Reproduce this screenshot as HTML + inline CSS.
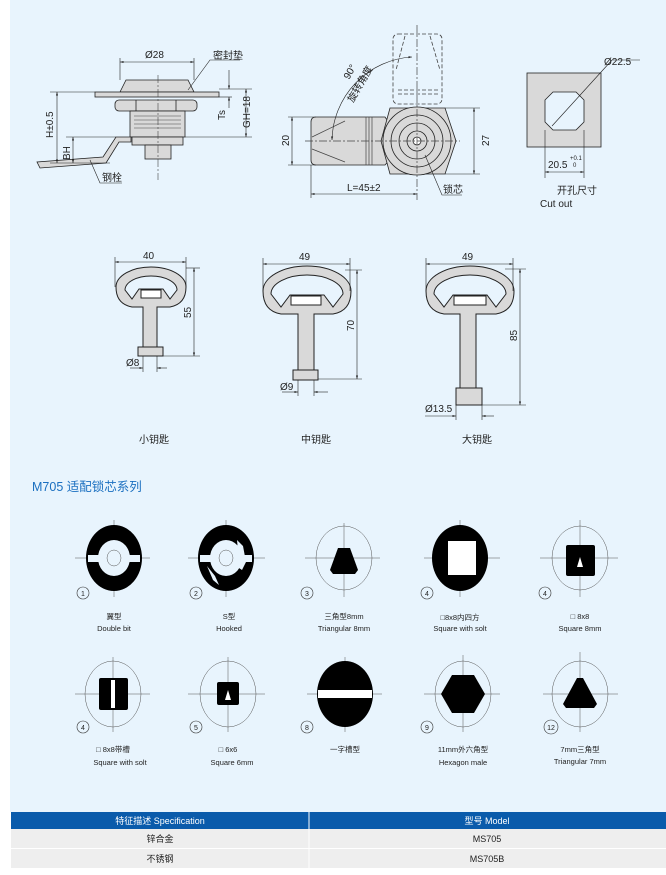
<!DOCTYPE html>
<html><head><meta charset="utf-8"><style>
html,body{margin:0;padding:0;background:#fff;}
svg{display:block;}
text{font-family:"Liberation Sans","Noto Sans CJK SC",sans-serif;fill:#222;}
</style></head><body>
<svg width="666" height="875" viewBox="0 0 666 875" xmlns="http://www.w3.org/2000/svg">
<defs>
<marker id="a" viewBox="0 0 10 10" refX="10" refY="5" markerWidth="6" markerHeight="6" orient="auto-start-reverse"><path d="M0,2L10,5L0,8z" fill="#222"/></marker>
</defs>
<rect x="10" y="0" width="656" height="812" fill="#e8f4fd"/>

<!-- ===== Left assembly drawing ===== -->
<g stroke="#222" stroke-width="0.8" fill="#d9d9d9">
<path d="M120,92 L126,80 L188,80 L194,92z"/>
<rect x="95" y="92" width="124" height="5"/>
<rect x="115" y="100" width="82" height="11" rx="4"/>
<line x1="136" y1="100" x2="136" y2="111"/><line x1="176" y1="100" x2="176" y2="111"/>
<rect x="130" y="111" width="55" height="26"/>
<rect x="132" y="137" width="51" height="8"/>
<rect x="145" y="145" width="26" height="14"/>
<path d="M116,137 L131,137 L131,142 L119,142 L106,163 L40,168 L37,162 L103,157z"/>
</g>
<g stroke="#444" stroke-width="0.6">
<line x1="134" y1="116" x2="181" y2="116"/><line x1="134" y1="120" x2="181" y2="120"/><line x1="134" y1="124" x2="181" y2="124"/><line x1="134" y1="128" x2="181" y2="128"/>
<line x1="158" y1="75" x2="158" y2="180" stroke-dasharray="8,2,2,2"/>
</g>
<g stroke="#222" stroke-width="0.6" fill="none">
<line x1="120" y1="58" x2="120" y2="80"/><line x1="194" y1="58" x2="194" y2="80"/>
<line x1="120" y1="62" x2="194" y2="62" marker-start="url(#a)" marker-end="url(#a)"/>
<polyline points="188,90 210,60 240,60"/>
<line x1="50" y1="92" x2="95" y2="92"/><line x1="50" y1="163" x2="110" y2="163"/>
<line x1="57" y1="92" x2="57" y2="163" marker-start="url(#a)" marker-end="url(#a)"/>
<line x1="66" y1="137" x2="116" y2="137"/>
<line x1="73" y1="137" x2="73" y2="163" marker-start="url(#a)" marker-end="url(#a)"/>
<line x1="185" y1="137" x2="252" y2="137"/><line x1="219" y1="89" x2="252" y2="89"/><line x1="219" y1="97" x2="232" y2="97"/>
<line x1="229" y1="70" x2="229" y2="89" marker-end="url(#a)"/>
<line x1="229" y1="108" x2="229" y2="97" marker-end="url(#a)"/>
<line x1="246" y1="89" x2="246" y2="137" marker-start="url(#a)" marker-end="url(#a)"/>
<polyline points="90,160 100,183 122,183"/>
</g>
<text x="145" y="58" font-size="10">Ø28</text>
<text x="213" y="59" font-size="10">密封垫</text>
<text x="0" y="0" font-size="10" transform="translate(53,138) rotate(-90)">H±0.5</text>
<text x="0" y="0" font-size="10" transform="translate(70,160) rotate(-90)">BH</text>
<text x="0" y="0" font-size="10" transform="translate(225,120) rotate(-90)">Ts</text>
<text x="0" y="0" font-size="10" transform="translate(250,128) rotate(-90)">GH=18</text>
<text x="102" y="181" font-size="10">钢栓</text>

<!-- ===== Middle drawing ===== -->
<g stroke="#444" stroke-width="0.8" fill="none" stroke-dasharray="4,2">
<rect x="393" y="34" width="49" height="70" rx="5"/>
<line x1="398" y1="90" x2="438" y2="90"/><line x1="398" y1="94" x2="438" y2="94"/>
<line x1="405" y1="36" x2="396" y2="70"/><line x1="430" y1="36" x2="440" y2="70"/>
</g>
<g stroke="#222" stroke-width="0.8" fill="#d9d9d9">
<path d="M316,117 L385,117 L392,127 L392,157 L385,165 L316,165 Q311,165 311,160 L311,122 Q311,117 316,117z"/>
<path d="M390,108 L445,108 L456,141 L445,174 L390,174 L381,141z"/>
<circle cx="417" cy="141" r="34"/>
<circle cx="417" cy="141" r="26" fill="none"/>
<circle cx="417" cy="141" r="18" fill="none"/>
<circle cx="417" cy="141" r="10" fill="none"/>
<circle cx="417" cy="141" r="4" fill="#fff"/>
</g>
<g stroke="#444" stroke-width="0.7" fill="none">
<line x1="366" y1="117" x2="366" y2="165"/><line x1="369" y1="117" x2="369" y2="165"/><line x1="372" y1="117" x2="372" y2="165"/>
<line x1="312" y1="137" x2="345" y2="121"/><line x1="312" y1="149" x2="345" y2="162"/>
<line x1="305" y1="141" x2="460" y2="141" stroke-dasharray="8,2,2,2"/>
<line x1="417" y1="25" x2="417" y2="200" stroke-dasharray="8,2,2,2"/>
</g>
<g stroke="#222" stroke-width="0.6" fill="none">
<path d="M412,57 A85,85 0 0 0 332,140" marker-start="url(#a)" marker-end="url(#a)"/>
<line x1="288" y1="117" x2="316" y2="117"/><line x1="288" y1="165" x2="316" y2="165"/>
<line x1="292" y1="117" x2="292" y2="165" marker-start="url(#a)" marker-end="url(#a)"/>
<line x1="445" y1="108" x2="480" y2="108"/><line x1="445" y1="174" x2="480" y2="174"/>
<line x1="474" y1="108" x2="474" y2="174" marker-start="url(#a)" marker-end="url(#a)"/>
<line x1="311" y1="165" x2="311" y2="198"/>
<line x1="311" y1="194" x2="417" y2="194" marker-start="url(#a)" marker-end="url(#a)"/>
<polyline points="425,155 442,195 462,195"/>
</g>
<text x="0" y="0" font-size="10" transform="translate(289,146) rotate(-90)">20</text>
<text x="0" y="0" font-size="10" transform="translate(489,146) rotate(-90)">27</text>
<text x="0" y="0" font-size="10" transform="translate(349,80) rotate(-60)">90°</text>
<text x="0" y="0" font-size="10" transform="translate(353,103) rotate(-60)">旋转角度</text>
<text x="347" y="191" font-size="10">L=45±2</text>
<text x="443" y="193" font-size="10">锁芯</text>

<!-- ===== Cutout ===== -->
<g stroke="#222" stroke-width="0.8">
<rect x="527" y="73" width="74" height="74" fill="#d9d9d9"/>
<path d="M553,92 L576,92 L584,100 L584,122 L576,130 L553,130 L545,122 L545,100z" fill="#e8f4fd"/>
<line x1="552" y1="126" x2="612" y2="60" stroke-width="0.6"/>
<line x1="612" y1="60" x2="640" y2="60" stroke-width="0.6"/>
<line x1="545" y1="130" x2="545" y2="178" stroke-width="0.6"/>
<line x1="584" y1="130" x2="584" y2="178" stroke-width="0.6"/>
<line x1="545" y1="172" x2="584" y2="172" stroke-width="0.6" marker-start="url(#a)" marker-end="url(#a)"/>
</g>
<text x="604" y="65" font-size="10">Ø22.5</text>
<text x="548" y="168" font-size="10">20.5</text>
<text x="570" y="160" font-size="6">+0.1</text>
<text x="573" y="167" font-size="6">0</text>
<text x="557" y="194" font-size="10">开孔尺寸</text>
<text x="540" y="207" font-size="10">Cut out</text>

<!-- ===== Keys ===== -->
<g stroke="#222" stroke-width="1" fill="#d9d9d9">
<path d="M116,287 A35,20 0 1 1 186,287 Q186,304 170,307 L157,307 L157,348 L143,348 L143,307 L132,307 Q116,304 116,287z"/>
<path d="M125,290 A26,14 0 1 1 177,290 L170,299 L163,289 L139,289 L132,299z" fill="#e8f4fd"/>
<rect x="138" y="347" width="25" height="9"/>
<rect x="141" y="290" width="20" height="8" fill="#fff"/>
<path d="M263,291 A44,25 0 1 1 351,291 Q351,311 333,314 L314,314 L314,371 L298,371 L298,314 L281,314 Q263,311 263,291z"/>
<path d="M271,294 A36,19 0 1 1 343,294 L333,307 L324,295 L290,295 L281,307z" fill="#e8f4fd"/>
<rect x="293" y="370" width="25" height="10"/>
<rect x="291" y="296" width="30" height="9" fill="#fff"/>
<path d="M426,291 A44,25 0 1 1 514,291 Q514,311 496,314 L476,314 L476,388 L460,388 L460,314 L444,314 Q426,311 426,291z"/>
<path d="M434,294 A36,19 0 1 1 506,294 L496,307 L487,295 L453,295 L444,307z" fill="#e8f4fd"/>
<rect x="456" y="388" width="26" height="17"/>
<rect x="454" y="296" width="32" height="9" fill="#fff"/>
</g>
<g stroke="#222" stroke-width="0.6" fill="none">
<line x1="115" y1="257" x2="115" y2="287"/><line x1="186" y1="257" x2="186" y2="287"/>
<line x1="115" y1="262" x2="186" y2="262" marker-start="url(#a)" marker-end="url(#a)"/>
<line x1="186" y1="268" x2="200" y2="268"/><line x1="163" y1="356" x2="200" y2="356"/>
<line x1="194" y1="268" x2="194" y2="356" marker-start="url(#a)" marker-end="url(#a)"/>
<line x1="143" y1="356" x2="143" y2="372"/><line x1="157" y1="356" x2="157" y2="372"/>
<line x1="130" y1="368" x2="143" y2="368" marker-end="url(#a)"/><line x1="167" y1="368" x2="157" y2="368" marker-end="url(#a)"/>
<line x1="263" y1="258" x2="263" y2="291"/><line x1="350" y1="258" x2="350" y2="291"/>
<line x1="263" y1="264" x2="350" y2="264" marker-start="url(#a)" marker-end="url(#a)"/>
<line x1="345" y1="270" x2="362" y2="270"/><line x1="318" y1="379" x2="362" y2="379"/>
<line x1="357" y1="270" x2="357" y2="379" marker-start="url(#a)" marker-end="url(#a)"/>
<line x1="298" y1="380" x2="298" y2="396"/><line x1="314" y1="380" x2="314" y2="396"/>
<line x1="282" y1="392" x2="298" y2="392" marker-end="url(#a)"/><line x1="328" y1="392" x2="314" y2="392" marker-end="url(#a)"/>
<line x1="426" y1="258" x2="426" y2="291"/><line x1="513" y1="258" x2="513" y2="291"/>
<line x1="426" y1="264" x2="513" y2="264" marker-start="url(#a)" marker-end="url(#a)"/>
<line x1="505" y1="269" x2="526" y2="269"/><line x1="482" y1="405" x2="526" y2="405"/>
<line x1="520" y1="269" x2="520" y2="405" marker-start="url(#a)" marker-end="url(#a)"/>
<line x1="456" y1="405" x2="456" y2="420"/><line x1="482" y1="405" x2="482" y2="420"/>
<line x1="425" y1="416" x2="456" y2="416" marker-end="url(#a)"/><line x1="494" y1="416" x2="482" y2="416" marker-end="url(#a)"/>
</g>
<text x="143" y="259" font-size="10">40</text>
<text x="299" y="260" font-size="10">49</text>
<text x="462" y="260" font-size="10">49</text>
<text x="0" y="0" font-size="10" transform="translate(191,318) rotate(-90)">55</text>
<text x="0" y="0" font-size="10" transform="translate(354,331) rotate(-90)">70</text>
<text x="0" y="0" font-size="10" transform="translate(517,341) rotate(-90)">85</text>
<text x="126" y="366" font-size="10">Ø8</text>
<text x="280" y="390" font-size="10">Ø9</text>
<text x="425" y="412" font-size="10">Ø13.5</text>
<text x="139" y="443" font-size="10">小钥匙</text>
<text x="301" y="443" font-size="10">中钥匙</text>
<text x="462" y="443" font-size="10">大钥匙</text>

<text x="32" y="491" font-size="12.5" style="fill:#1a6fc0">M705 适配锁芯系列</text>

<!-- ===== Cores row 1 ===== -->
<g stroke="#555" stroke-width="0.5" fill="none">
<line x1="75" y1="558" x2="150" y2="558"/><line x1="114" y1="520" x2="114" y2="597"/>
<line x1="188" y1="558" x2="265" y2="558"/><line x1="226" y1="520" x2="226" y2="597"/>
<line x1="305" y1="558" x2="380" y2="558"/><line x1="344" y1="523" x2="344" y2="597"/>
<line x1="424" y1="558" x2="500" y2="558"/><line x1="460" y1="520" x2="460" y2="597"/>
<line x1="540" y1="558" x2="618" y2="558"/><line x1="580" y1="520" x2="580" y2="597"/>
<ellipse cx="344" cy="558" rx="28" ry="32"/><ellipse cx="580" cy="558" rx="28" ry="32"/>
</g>
<ellipse cx="114" cy="558" rx="28" ry="33" fill="#000"/>
<ellipse cx="114" cy="558" rx="16" ry="18" fill="#e8f4fd"/>
<rect x="88" y="555" width="52" height="7" fill="#e8f4fd"/>
<ellipse cx="114" cy="558" rx="7" ry="8" fill="none" stroke="#555" stroke-width="0.5"/>
<ellipse cx="226" cy="558" rx="28" ry="33" fill="#000"/>
<ellipse cx="226" cy="558" rx="16" ry="18" fill="#e8f4fd"/>
<rect x="200" y="555" width="52" height="7" fill="#e8f4fd"/>
<path d="M237,540 L243,546 L246,562 L242,570 L236,566 L238,551z" fill="#e8f4fd"/>
<path d="M207,566 L213,580 L219,585 L215,576z" fill="#e8f4fd"/>
<ellipse cx="226" cy="558" rx="7" ry="8" fill="none" stroke="#555" stroke-width="0.5"/>
<path d="M338,548 L350,548 L358,570 L355,574 L333,574 L330,570z" fill="#000"/>
<ellipse cx="460" cy="558" rx="28" ry="33" fill="#000"/>
<rect x="448" y="541" width="28" height="34" fill="#fff"/>
<rect x="566" y="545" width="29" height="31" rx="2" fill="#000"/>
<path d="M580,557 L583,567 L577,567z" fill="#fff"/>

<!-- ===== Cores row 2 ===== -->
<g stroke="#555" stroke-width="0.5" fill="none">
<line x1="75" y1="694" x2="150" y2="694"/><line x1="113" y1="657" x2="113" y2="732"/>
<line x1="188" y1="694" x2="265" y2="694"/><line x1="228" y1="657" x2="228" y2="732"/>
<line x1="307" y1="694" x2="382" y2="694"/><line x1="345" y1="657" x2="345" y2="732"/>
<line x1="424" y1="694" x2="500" y2="694"/><line x1="463" y1="655" x2="463" y2="732"/>
<line x1="543" y1="694" x2="618" y2="694"/><line x1="580" y1="652" x2="580" y2="732"/>
<ellipse cx="113" cy="694" rx="28" ry="33"/><ellipse cx="228" cy="694" rx="28" ry="33"/>
<ellipse cx="463" cy="694" rx="28" ry="33"/><ellipse cx="580" cy="694" rx="28" ry="33"/>
</g>
<rect x="99" y="678" width="29" height="32" rx="2" fill="#000"/>
<rect x="111" y="680" width="4" height="28" fill="#fff"/>
<rect x="217" y="682" width="22" height="23" rx="2" fill="#000"/>
<path d="M228,690 L231,700 L225,700z" fill="#fff"/>
<ellipse cx="345" cy="694" rx="28" ry="33" fill="#000"/>
<rect x="318" y="690" width="54" height="8" fill="#fff"/>
<path d="M452,675 L474,675 L485,694 L474,713 L452,713 L441,694z" fill="#000"/>
<path d="M577,678 L583,678 L597,704 L594,708 L566,708 L563,704z" fill="#000"/>
<g stroke="#000" stroke-width="1.2"><line x1="580" y1="686" x2="580" y2="708"/></g>

<!-- number circles -->
<g stroke="#333" stroke-width="0.6" fill="none">
<circle cx="83" cy="593" r="6"/><circle cx="196" cy="593" r="6"/><circle cx="307" cy="593" r="6"/><circle cx="427" cy="593" r="6"/><circle cx="545" cy="593" r="6"/>
<circle cx="83" cy="727" r="6"/><circle cx="196" cy="727" r="6"/><circle cx="307" cy="727" r="6"/><circle cx="427" cy="727" r="6"/><circle cx="551" cy="727" r="7"/>
</g>
<g font-size="7" text-anchor="middle">
<text x="83" y="596">1</text><text x="196" y="596">2</text><text x="307" y="596">3</text><text x="427" y="596">4</text><text x="545" y="596">4</text>
<text x="83" y="730">4</text><text x="196" y="730">5</text><text x="307" y="730">8</text><text x="427" y="730">9</text><text x="551" y="730">12</text>
</g>
<g font-size="7.5" text-anchor="middle">
<text x="114" y="619">翼型</text><text x="114" y="631">Double bit</text>
<text x="229" y="619">S型</text><text x="229" y="631">Hooked</text>
<text x="344" y="619">三角型8mm</text><text x="344" y="631">Triangular 8mm</text>
<text x="460" y="620">□8x8内四方</text><text x="460" y="631">Square with solt</text>
<text x="580" y="619">□ 8x8</text><text x="580" y="631">Square 8mm</text>
<text x="113" y="752">□  8x8带槽</text><text x="120" y="765">Square  with solt</text>
<text x="228" y="752">□ 6x6</text><text x="232" y="765">Square 6mm</text>
<text x="345" y="752">一字槽型</text>
<text x="463" y="752">11mm外六角型</text><text x="463" y="765">Hexagon male</text>
<text x="580" y="752">7mm三角型</text><text x="580" y="764">Triangular 7mm</text>
</g>

<!-- ===== Table ===== -->
<rect x="11" y="812" width="655" height="17" fill="#0a5bab"/>
<rect x="11" y="829" width="655" height="39" fill="#eeeeee"/>
<line x1="11" y1="848.5" x2="666" y2="848.5" stroke="#fff" stroke-width="1"/>
<line x1="309" y1="812" x2="309" y2="868" stroke="#fff" stroke-width="1"/>
<g font-size="9" text-anchor="middle">
<text x="160" y="824" style="fill:#fff">特征描述 Specification</text>
<text x="487" y="824" style="fill:#fff">型号 Model</text>
<text x="160" y="842">锌合金</text><text x="487" y="842">MS705</text>
<text x="160" y="862">不锈钢</text><text x="487" y="862">MS705B</text>
</g>
</svg>
</body></html>
